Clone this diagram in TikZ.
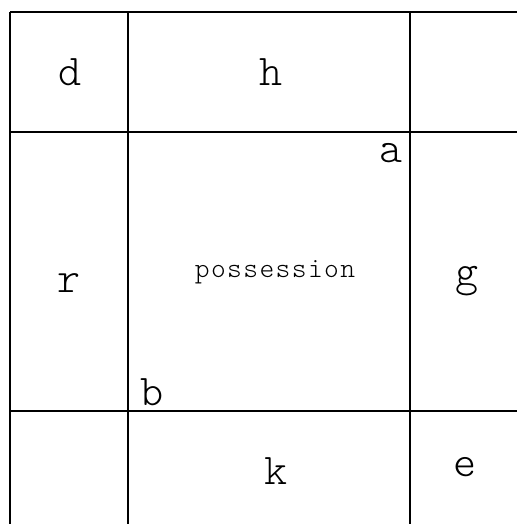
\documentclass[tikz,border=0pt]{standalone}
\usepackage{xcolor}
\usepackage{tikz}
\usepackage{fontspec}
\setmonofont{Latin Modern Mono Light}
\usetikzlibrary{positioning}

\tikzset{
  gridline/.style={line width=0.6pt, black},
  biglabel/.style={font=\ttfamily\fontsize{25}{25}\selectfont, inner sep=0pt},
  smalllabel/.style={font=\ttfamily\fontsize{16}{16}\selectfont, inner sep=0pt}
}
\newcommand{\gap}{\kern0.8pt}

\begin{document}
\begin{tikzpicture}[x=0.02cm, y=-0.02cm]
  \useasboundingbox (0,0) rectangle (517,525);
  % Grid lines
  \foreach \x in {10, 128, 410}{
    \draw[gridline] (\x,12) -- (\x,524);
  }
  \foreach \y in {12, 132, 411}{
    \draw[gridline] (10,\y) -- (517,\y);
  }
  % Cell labels
  \foreach \name/\txt/\x/\y in {d/d/70/72, h/h/271/72, r/r/69/283, g/g/467/281,
                                k/k/276/471, e/e/465/467}{
    \node[biglabel] (\name) at (\x,\y) {\txt};
  }
  % Corner labels of the middle cell
  \node[biglabel] (a) at (391,153) {a};
  \node[biglabel] (b) at (152,392) {b};
  \node[smalllabel] (poss) at (275,272)
    {p\gap o\gap s\gap s\gap e\gap s\gap s\gap i\gap o\gap n};
\end{tikzpicture}
\end{document}
